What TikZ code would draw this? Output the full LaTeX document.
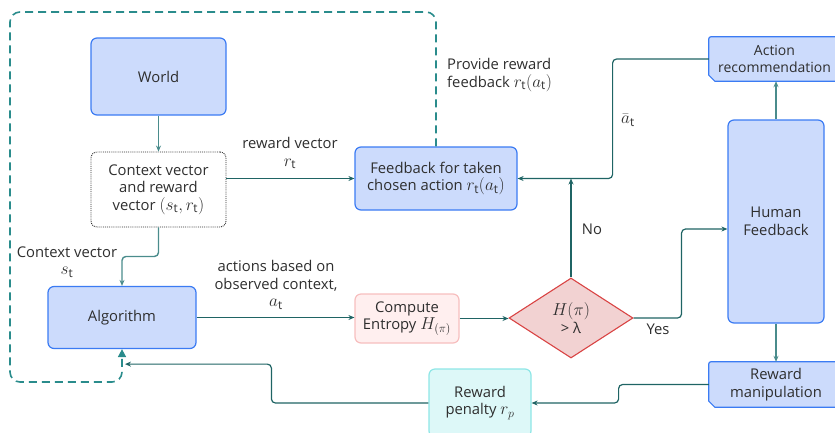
\documentclass[tikz,border=0pt]{standalone}
\usepackage{fontspec}
\setmainfont{Open Sans}
\usetikzlibrary{arrows.meta,shapes.geometric,backgrounds,calc}
\definecolor{bfill}{HTML}{CCDBFC}
\definecolor{bline}{HTML}{3B7BF3}
\definecolor{pfill}{HTML}{FFEFEF}
\definecolor{pline}{HTML}{F7BEBE}
\definecolor{dfill}{HTML}{F2D2D2}
\definecolor{dline}{HTML}{D94444}
\definecolor{cfill}{HTML}{DDF8F8}
\definecolor{cline}{HTML}{8EE6E6}
\definecolor{teal}{HTML}{1F6464}
\definecolor{lteal}{HTML}{4A8C8C}
\definecolor{dteal}{HTML}{2A8C8C}
\definecolor{txt}{HTML}{2E2E2E}
\newcommand{\mth}[1]{{\fontsize{17}{17}\selectfont$#1$}}
\begin{document}
\begin{tikzpicture}[x=1pt,y=-1pt,
  every node/.style={text=txt, font=\fontsize{14.8}{17.5}\selectfont, align=center},
  bluebox/.style={draw=bline, fill=bfill, line width=1.2pt, rounded corners=6pt, inner sep=2pt},
  chambox/.style={draw=bline, fill=bfill, line width=1.2pt},
  dotbox/.style={draw=txt, densely dotted, line width=0.9pt, rounded corners=6pt, inner sep=2pt},
  pinkbox/.style={draw=pline, fill=pfill, line width=1.2pt, rounded corners=6pt, inner sep=2pt},
  cyanbox/.style={draw=cline, fill=cfill, line width=1.2pt, rounded corners=6pt, inner sep=2pt},
  decbox/.style={diamond, draw=dline, fill=dfill, line width=1.1pt, inner sep=0pt},
  lbl/.style={inner sep=1pt},
  arr/.style={draw=teal, line width=1.2pt, -{Stealth[length=6pt,width=5pt]}, rounded corners=4pt},
  larr/.style={draw=lteal, line width=1.4pt, -{Stealth[length=6pt,width=5pt]}, rounded corners=4pt},
  dsh/.style={draw=dteal, line width=1.6pt, dash pattern=on 8pt off 5pt, rounded corners=10pt, -{Triangle[length=8pt,width=8pt]}}
]
\useasboundingbox (0,0) rectangle (835,432);
\clip (0,0) rectangle (835,432);

% nodes
\node[bluebox, minimum width=135pt, minimum height=77pt] (world) at (158.5,76.5) {World};
\node[dotbox, minimum width=135pt, minimum height=75pt] (ctx) at (158.5,189.5) {Context vector\\and reward\\vector \mth{(s_{\mathrm{t}},r_{\mathrm{t}})}};
\node[bluebox, minimum width=162pt, minimum height=63pt] (fb) at (436,178.5) {Feedback for taken\\chosen action \mth{r_{\mathrm{t}}(a_{\mathrm{t}})}};
\node[bluebox, minimum width=148pt, minimum height=62pt] (alg) at (122,317.5) {Algorithm};
\node[pinkbox, minimum width=104pt, minimum height=49pt] (ent) at (407,318.5) {Compute\\Entropy \mth{H_{(\pi)}}};
\node[decbox, minimum width=124pt, minimum height=80pt] (dia) at (571,318) {\mth{H(\pi)}\\> λ};
\node[bluebox, minimum width=96pt, minimum height=203pt] (human) at (776,221.5) {Human\\Feedback};
\node[cyanbox, minimum width=102pt, minimum height=68pt] (pen) at (480,403) {Reward\\penalty \mth{r_p}};
\node[inner sep=0pt, minimum width=131pt, minimum height=44pt, font=\fontsize{14}{17}\selectfont] (act) at (774.5,59) {Action\\recommendation};
\node[inner sep=0pt, minimum width=131pt, minimum height=45pt] (rman) at (774.5,384.5) {\hspace*{3pt}Reward\\\hspace*{3pt}manipulation};
\begin{scope}[on background layer]
\draw[chambox] ([yshift=-2pt]act.north west) to[out=90,in=180] ([xshift=2pt]act.north west) -- (act.north east) -- (act.south east) -- ([xshift=6pt]act.south west) -- ([yshift=6pt]act.south west) -- cycle;
\draw[chambox] ([yshift=-2pt]rman.north west) to[out=90,in=180] ([xshift=2pt]rman.north west) -- (rman.north east) -- (rman.south east) -- ([xshift=6pt]rman.south west) -- ([yshift=6pt]rman.south west) -- cycle;
\end{scope}

% labels
\node[lbl] (lrv) at (290,153) {reward vector\\\mth{r_{\mathrm{t}}}};
\node[lbl, anchor=west, align=left] (lprov) at (446,75) {Provide reward\\feedback \mth{r_{\mathrm{t}}(a_{\mathrm{t}})}};
\node[lbl] (labar) at (628,120) {\mth{\bar{a}_{\mathrm{t}}}};
\node[lbl] (lctx) at (67,262) {Context vector\\\mth{s_{\mathrm{t}}}};
\node[lbl] (lact) at (276,285) {actions based on\\observed context,\\\mth{a_{\mathrm{t}}}};
\node[lbl] (lno) at (592,229) {No};
\node[lbl] (lyes) at (658,329) {Yes};

\coordinate (algin) at ([xshift=3pt,yshift=-15pt]alg.south);

% connectors
\draw[dsh] (fb.north) -- (fb.north |- 0,12) -- (10,12) -- (10,382) -- (alg.south |- 0,382) -- (alg.south);
\draw[larr] (world) -- (ctx);
\draw[arr] (ctx.east |- fb.west) -- (fb.west);
\draw[larr] (ctx.south) -- ++(0,29) -| (alg.north);
\draw[arr] (alg.east) -- (alg.east -| ent.west);
\draw[arr] (ent.east) -- (ent.east -| dia.west);
\draw[arr] (dia.north) -- (dia.north |- fb.east);
\draw[arr] (dia.east) -- ++(48,0) |- ([yshift=-7.5pt]human.west);
\draw[larr] (human.north) -- (human.north |- act.south);
\draw[larr] (human.south) -- (human.south |- rman.north);
\draw[arr] (act.west) -| ([xshift=95pt]fb.east) -- (fb.east);
\draw[arr] (rman.west) -| ([xshift=87pt]pen.east) -- (pen.east);
\draw[arr] (pen.west) -- ++(-157,0) |- (algin);
\end{tikzpicture}
\end{document}
